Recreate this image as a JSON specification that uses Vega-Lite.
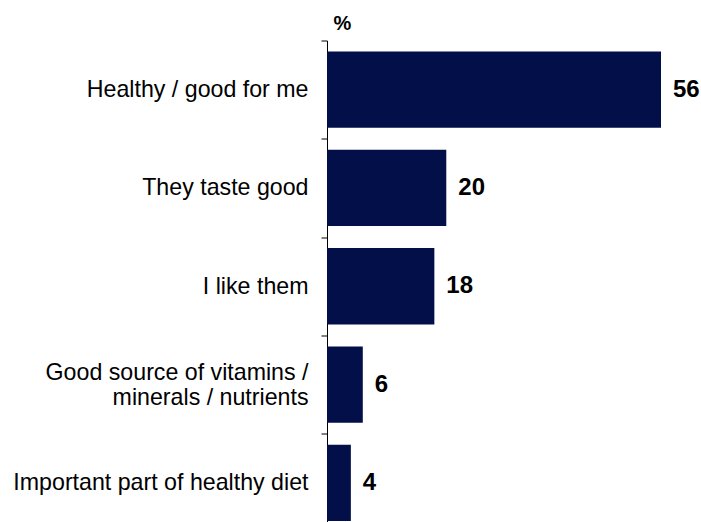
{
  "$schema": "https://vega.github.io/schema/vega-lite/v6.json",
  "autosize": "none",
  "width": 374,
  "height": 481.5,
  "padding": {"left": 327, "top": 40.5, "right": 0, "bottom": 0},
  "background": "white",
  "config": {"view": {"stroke": null}, "font": "Liberation Sans"},
  "data": {"values": [
    {"reason": "Healthy / good for me", "pct": 56},
    {"reason": "They taste good", "pct": 20},
    {"reason": "I like them", "pct": 18},
    {"reason": "Good source of vitamins /|minerals / nutrients", "pct": 6},
    {"reason": "Important part of healthy diet", "pct": 4}
  ]},
  "encoding": {
    "y": {"field": "reason", "type": "nominal", "sort": null,
      "scale": {"range": [0, 491.5], "paddingInner": 0.224, "paddingOuter": 0.112},
      "axis": {"title": "%", "titleAngle": 0, "titleX": 15, "titleY": -7, "titleAlign": "center", "titleBaseline": "bottom", "titleFontSize": 20, "titleFontWeight": "bold", "titleColor": "black",
        "labelExpr": "split(datum.label, '|')", "labelFontSize": 23.2, "labelColor": "black", "labelPadding": 13, "labelLineHeight": 25,
        "labelBaseline": {"condition": {"test": "indexof(datum.value, '|') >= 0", "value": "bottom"}, "value": "middle"},
        "tickOffset": -49.15, "labelOffset": 49.15,
        "tickSize": 6, "tickColor": "black", "domainColor": "black", "labelLimit": 400}},
    "x": {"field": "pct", "type": "quantitative", "scale": {"domain": [0, 56], "range": [0, 334]}, "axis": null}
  },
  "layer": [
    {"mark": {"type": "bar", "color": "#020f48"}},
    {"mark": {"type": "text", "align": "left", "dx": 12, "fontSize": 24, "fontWeight": "bold", "color": "black"},
     "encoding": {"text": {"field": "pct", "type": "quantitative"}}}
  ]
}
